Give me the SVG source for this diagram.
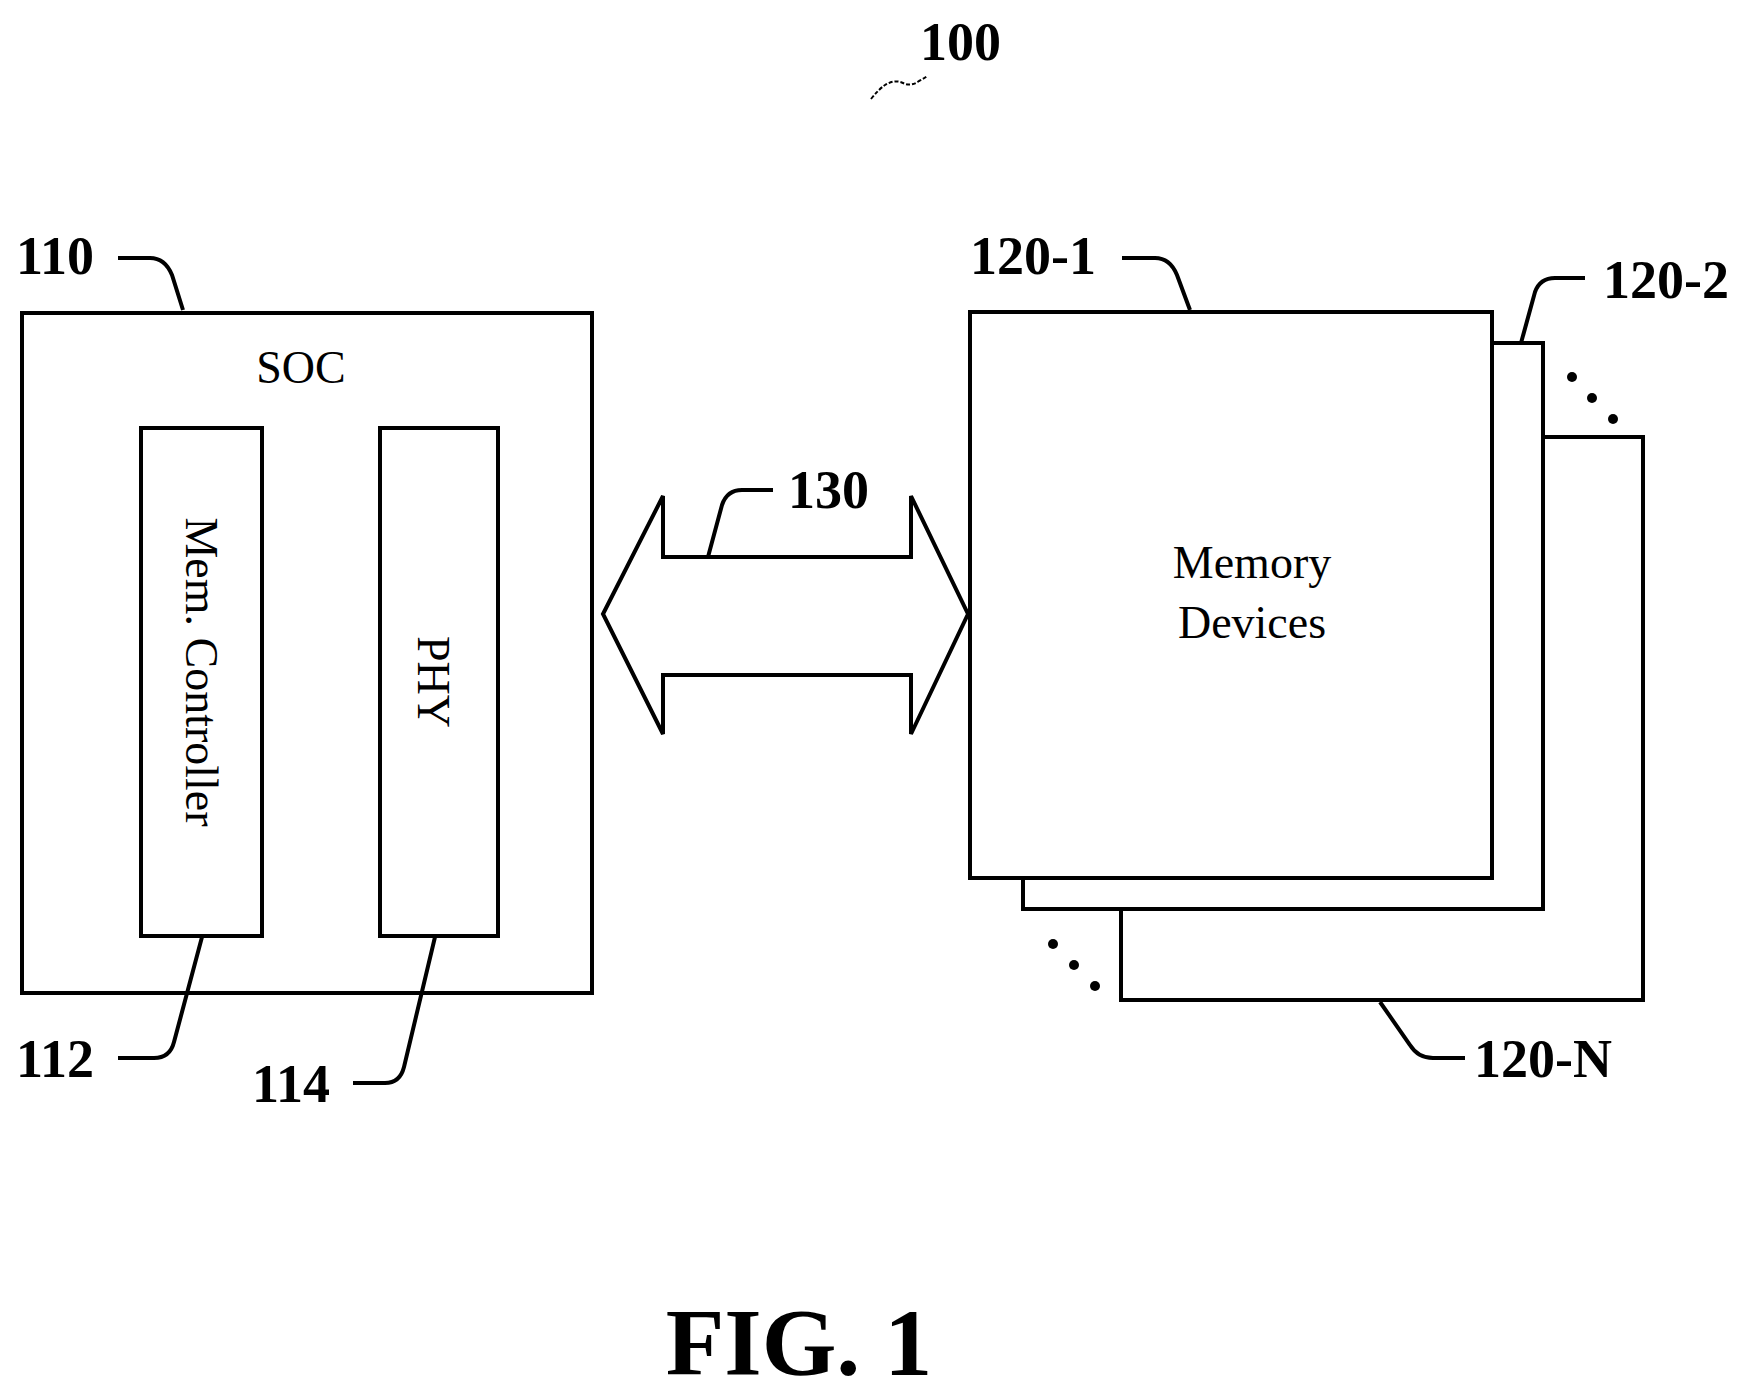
<svg xmlns="http://www.w3.org/2000/svg" width="1754" height="1393" viewBox="0 0 1754 1393">
<style>
.b{fill:#fff;stroke:#000;stroke-width:4}
.l{fill:none;stroke:#000;stroke-width:4}
.t{font-family:"Liberation Serif",serif;font-size:46px;text-anchor:middle}
.n{font-family:"Liberation Serif",serif;font-size:54px;font-weight:bold}
</style>
<rect width="1754" height="1393" fill="#fff"/>
<g id="n110"><rect class="b" x="22" y="313" width="570" height="680"/><text class="t" x="301" y="383">SOC</text></g>
<g id="n112"><rect class="b" x="141" y="428" width="121" height="508"/><text class="t" transform="translate(186,672) rotate(90)">Mem. Controller</text></g>
<g id="n114"><rect class="b" x="380" y="428" width="118" height="508"/><text class="t" transform="translate(418,682) rotate(90)">PHY</text></g>
<g id="n120N"><rect class="b" x="1121" y="437" width="522" height="563"/></g>
<g id="n1202"><rect class="b" x="1023" y="343" width="520" height="566"/></g>
<g id="n1201"><rect class="b" x="970" y="312" width="522" height="566"/><text class="t" x="1252" y="578">Memory</text><text class="t" x="1252" y="638">Devices</text></g>
<g id="dots"><circle cx="1572" cy="377" r="5"/><circle cx="1592" cy="398" r="5"/><circle cx="1613" cy="419" r="5"/><circle cx="1053" cy="944" r="5"/><circle cx="1074" cy="965" r="5"/><circle cx="1095" cy="986" r="5"/></g>
<g id="connectors">
<polygon class="b" points="603,614 663,496 663,557 911,557 911,496 968,614 911,734 911,675 663,675 663,734"/>
<path class="l" d="M118,258 H150 Q165,258 172,275 L183,310"/>
<path class="l" d="M1122,258 H1155 Q1170,258 1177,275 L1190,310"/>
<path class="l" d="M1585,278 H1555 Q1540,278 1535,292 L1521,343"/>
<path class="l" d="M773,490 H742 Q727,490 722,505 L708,557"/>
<path class="l" d="M118,1058 H154 Q170,1058 174,1042 L202,937"/>
<path class="l" d="M353,1083 H385 Q400,1083 404,1067 L435,937"/>
<path class="l" d="M1465,1058 H1433 Q1418,1058 1410,1045 L1380,1002"/>
<path d="M871,99 q8,-10 14,-14 q10,-6 18,-2 q8,4 16,-2 q6,-3 8,-5" fill="none" stroke="#000" stroke-width="2" stroke-dasharray="4,2"/>
</g>
<g id="labels">
<text class="n" x="920" y="60">100</text>
<text class="n" x="16" y="274">110</text>
<text class="n" x="970" y="274">120-1</text>
<text class="n" x="1603" y="298">120-2</text>
<text class="n" x="788" y="508">130</text>
<text class="n" x="16" y="1077">112</text>
<text class="n" x="252" y="1102">114</text>
<text class="n" x="1474" y="1077">120-N</text>
<text class="n" x="799" y="1375" style="text-anchor:middle;font-size:96px">FIG. 1</text>
</g>
</svg>
